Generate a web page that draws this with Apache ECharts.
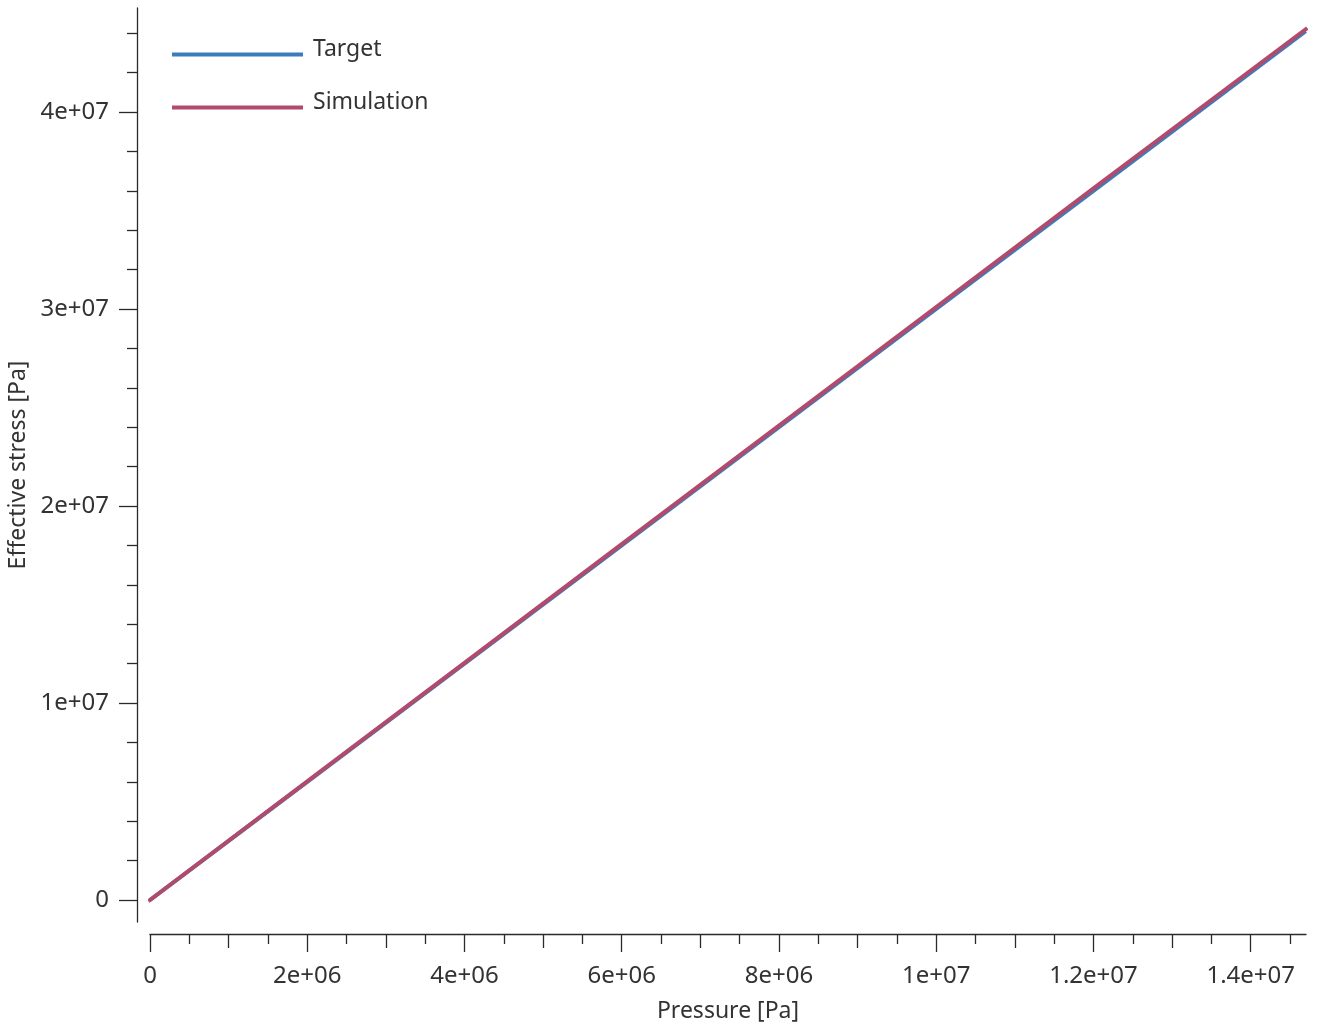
<!DOCTYPE html>
<html>
<head>
<meta charset="utf-8">
<script src="https://cdn.jsdelivr.net/npm/echarts@6/dist/echarts.min.js"></script>
<style>html,body{margin:0;padding:0;background:#fff}#c{width:1339px;height:1024px}</style>
</head>
<body>
<div id="c"></div>
<script>
// Data
const pressure = [0, 2e6, 4e6, 6e6, 8e6, 1e7, 1.2e7, 1.47e7];
const targetStress = [0, 6.0e6, 1.2e7, 1.8e7, 2.4e7, 3.0e7, 3.6e7, 4.41e7];
const simPressure = [0, 2e6, 4e6, 6e6, 8e6, 1e7, 1.2e7, 1.47e7];
const simStress = [0, 6.02e6, 1.204e7, 1.806e7, 2.408e7, 3.01e7, 3.612e7, 4.42e7];
const xMajor = [0, 2e6, 4e6, 6e6, 8e6, 1e7, 1.2e7, 1.4e7];
const xMid = [1e6, 3e6, 5e6, 7e6, 9e6, 1.1e7, 1.3e7];
const xMinor = [5e5, 1.5e6, 2.5e6, 3.5e6, 4.5e6, 5.5e6, 6.5e6, 7.5e6, 8.5e6, 9.5e6, 1.05e7, 1.15e7, 1.25e7, 1.35e7, 1.45e7];
const yMajor = [0, 1e7, 2e7, 3e7, 4e7];
const yMinor = [2e6, 4e6, 6e6, 8e6, 1.2e7, 1.4e7, 1.6e7, 1.8e7, 2.2e7, 2.4e7, 2.6e7, 2.8e7, 3.2e7, 3.4e7, 3.6e7, 3.8e7, 4.2e7, 4.4e7];
const xLabels = ['0', '2e+06', '4e+06', '6e+06', '8e+06', '1e+07', '1.2e+07', '1.4e+07'];
const yLabels = ['0', '1e+07', '2e+07', '3e+07', '4e+07'];

const FONT = 'Noto Sans';
const TXT = '#333333';
const AX = '#2a2a2a';
const X_MIN = 0, X_MAX = 1.4703e7;
const Y_MIN = -1.117e6, Y_MAX = 4.528e7;
// legend icon: thin line sitting low in a 14px box (tiny invisible anchor keeps the box)
const LEGEND_ICON = 'path://M0,0 L0.01,0 L0.01,0.01 Z M0,10 L131,10 L131,14 L0,14 Z';

function fmt(list, labels) {
  return function (v) {
    for (let i = 0; i < list.length; i++) if (Math.abs(list[i] - v) < 1) return labels[i];
    return '';
  };
}

function xAx(extra) {
  return Object.assign({
    type: 'value', min: X_MIN, max: X_MAX, position: 'bottom', offset: 12,
    splitLine: { show: false },
    axisLine: { show: false, onZero: false },
    axisLabel: { show: false },
    axisTick: { show: false }
  }, extra);
}
function yAx(extra) {
  return Object.assign({
    type: 'value', min: Y_MIN, max: Y_MAX, position: 'left', offset: 13,
    splitLine: { show: false },
    axisLine: { show: false, onZero: false },
    axisLabel: { show: false },
    axisTick: { show: false }
  }, extra);
}

const chart = echarts.init(document.getElementById('c'), null, { renderer: 'canvas' });
chart.setOption({
  animation: false,
  backgroundColor: '#ffffff',
  grid: { left: 150, right: 33, top: 8, bottom: 102, containLabel: false, outerBoundsMode: 'none' },
  legend: {
    orient: 'vertical', left: 167, top: 33,
    itemWidth: 131, itemHeight: 14, itemGap: 30,
    icon: LEGEND_ICON, symbolKeepAspect: false,
    data: [
      { name: 'Target', itemStyle: { color: '#3a7dbd' } },
      { name: 'Simulation', itemStyle: { color: '#b14a6b' } }
    ],
    textStyle: { fontFamily: FONT, fontSize: 23, color: TXT, padding: [0, 0, 0, 5] }
  },
  xAxis: [
    xAx({
      axisLine: { show: true, onZero: false, lineStyle: { color: AX, width: 1.3 } },
      axisTick: { show: true, length: 18, lineStyle: { color: AX, width: 1.3 }, customValues: xMajor },
      axisLabel: { show: true, customValues: xMajor, formatter: fmt(xMajor, xLabels), margin: 30, fontFamily: FONT, fontSize: 24, color: TXT },
      name: 'Pressure [Pa]', nameLocation: 'middle', nameGap: 66,
      nameTextStyle: { fontFamily: FONT, fontSize: 23, color: TXT }
    }),
    xAx({ axisTick: { show: true, length: 14, lineStyle: { color: AX, width: 1.3 }, customValues: xMid } }),
    xAx({ axisTick: { show: true, length: 10, lineStyle: { color: AX, width: 1.3 }, customValues: xMinor } })
  ],
  yAxis: [
    yAx({
      axisLine: { show: true, onZero: false, lineStyle: { color: AX, width: 1.3 } },
      axisTick: { show: true, length: 18, lineStyle: { color: AX, width: 1.3 }, customValues: yMajor },
      axisLabel: { show: true, customValues: yMajor, formatter: fmt(yMajor, yLabels), margin: 28, fontFamily: FONT, fontSize: 24, color: TXT },
      name: 'Effective stress [Pa]', nameLocation: 'middle', nameGap: 104, nameRotate: 90,
      nameTextStyle: { fontFamily: FONT, fontSize: 23, color: TXT }
    }),
    yAx({ axisTick: { show: true, length: 10, lineStyle: { color: AX, width: 1.3 }, customValues: yMinor } })
  ],
  series: [
    {
      name: 'Target', type: 'line', xAxisIndex: 0, yAxisIndex: 0,
      data: pressure.map((p, i) => [p, targetStress[i]]),
      showSymbol: false, symbol: 'none',
      lineStyle: { color: '#3a7dbd', width: 4 }, itemStyle: { color: '#3a7dbd' }
    },
    {
      name: 'Simulation', type: 'line', xAxisIndex: 0, yAxisIndex: 0,
      data: simPressure.map((p, i) => [p, simStress[i]]),
      showSymbol: false, symbol: 'none',
      lineStyle: { color: '#b14a6b', width: 4, cap: 'square' }, itemStyle: { color: '#b14a6b' }
    }
  ]
});
</script>
</body>
</html>
